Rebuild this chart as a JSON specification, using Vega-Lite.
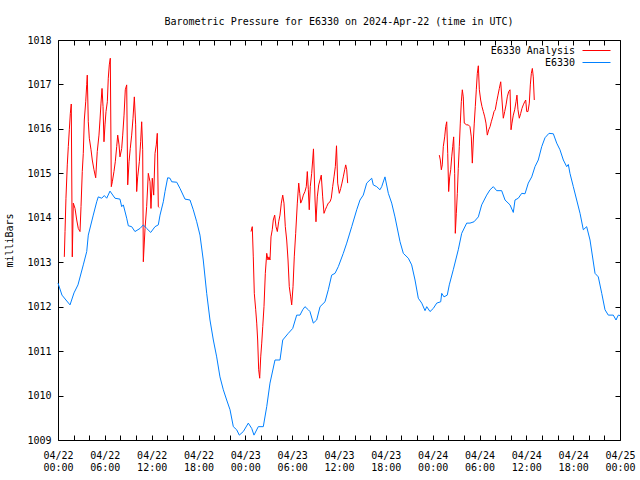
{
  "$schema": "https://vega.github.io/schema/vega-lite/v6.json",
  "width": 562,
  "height": 400,
  "autosize": {"type": "none"},
  "padding": {"left": 58, "top": 40, "right": 20, "bottom": 40},
  "background": "white",
  "title": {"text": "Barometric Pressure for E6330 on 2024-Apr-22 (time in UTC)", "font": "DejaVu Sans Mono", "fontSize": 10, "fontWeight": "normal", "color": "black", "anchor": "middle", "offset": 8},
  "config": {
    "view": {"stroke": "black", "strokeWidth": 1},
    "axis": {"domain": false, "grid": false, "tickColor": "black", "tickSize": -5, "labelFont": "DejaVu Sans Mono", "labelFontSize": 10, "labelColor": "black", "titleFont": "DejaVu Sans Mono", "titleFontSize": 10, "titleFontWeight": "normal", "titleColor": "black"},
    "legend": {"orient": "none", "title": null, "symbolType": "stroke", "symbolSize": 784, "symbolStrokeWidth": 1, "labelAlign": "right", "labelOffset": -36, "labelFont": "DejaVu Sans Mono", "labelFontSize": 10, "labelColor": "black", "padding": 0}
  },
  "data": {"values": [
    {"series":"E6330 Analysis","segment":"a1","hour":0.81,"mbar":1013.12},
    {"series":"E6330 Analysis","segment":"a1","hour":0.90,"mbar":1013.69},
    {"series":"E6330 Analysis","segment":"a1","hour":1.02,"mbar":1014.44},
    {"series":"E6330 Analysis","segment":"a1","hour":1.19,"mbar":1015.19},
    {"series":"E6330 Analysis","segment":"a1","hour":1.32,"mbar":1015.60},
    {"series":"E6330 Analysis","segment":"a1","hour":1.45,"mbar":1015.98},
    {"series":"E6330 Analysis","segment":"a1","hour":1.58,"mbar":1016.35},
    {"series":"E6330 Analysis","segment":"a1","hour":1.70,"mbar":1016.56},
    {"series":"E6330 Analysis","segment":"a1","hour":1.83,"mbar":1013.12},
    {"series":"E6330 Analysis","segment":"a1","hour":1.96,"mbar":1014.33},
    {"series":"E6330 Analysis","segment":"a1","hour":2.18,"mbar":1014.21},
    {"series":"E6330 Analysis","segment":"a1","hour":2.40,"mbar":1013.95},
    {"series":"E6330 Analysis","segment":"a1","hour":2.60,"mbar":1013.76},
    {"series":"E6330 Analysis","segment":"a1","hour":2.82,"mbar":1013.69},
    {"series":"E6330 Analysis","segment":"a1","hour":2.95,"mbar":1014.25},
    {"series":"E6330 Analysis","segment":"a1","hour":3.11,"mbar":1015.04},
    {"series":"E6330 Analysis","segment":"a1","hour":3.24,"mbar":1015.45},
    {"series":"E6330 Analysis","segment":"a1","hour":3.37,"mbar":1016.20},
    {"series":"E6330 Analysis","segment":"a1","hour":3.55,"mbar":1016.61},
    {"series":"E6330 Analysis","segment":"a1","hour":3.68,"mbar":1017.00},
    {"series":"E6330 Analysis","segment":"a1","hour":3.75,"mbar":1017.21},
    {"series":"E6330 Analysis","segment":"a1","hour":3.88,"mbar":1016.16},
    {"series":"E6330 Analysis","segment":"a1","hour":4.01,"mbar":1015.79},
    {"series":"E6330 Analysis","segment":"a1","hour":4.23,"mbar":1015.53},
    {"series":"E6330 Analysis","segment":"a1","hour":4.39,"mbar":1015.30},
    {"series":"E6330 Analysis","segment":"a1","hour":4.61,"mbar":1015.08},
    {"series":"E6330 Analysis","segment":"a1","hour":4.83,"mbar":1014.90},
    {"series":"E6330 Analysis","segment":"a1","hour":5.03,"mbar":1015.49},
    {"series":"E6330 Analysis","segment":"a1","hour":5.25,"mbar":1015.86},
    {"series":"E6330 Analysis","segment":"a1","hour":5.38,"mbar":1016.20},
    {"series":"E6330 Analysis","segment":"a1","hour":5.51,"mbar":1016.58},
    {"series":"E6330 Analysis","segment":"a1","hour":5.64,"mbar":1016.91},
    {"series":"E6330 Analysis","segment":"a1","hour":5.77,"mbar":1016.50},
    {"series":"E6330 Analysis","segment":"a1","hour":5.89,"mbar":1015.71},
    {"series":"E6330 Analysis","segment":"a1","hour":6.02,"mbar":1016.09},
    {"series":"E6330 Analysis","segment":"a1","hour":6.15,"mbar":1016.39},
    {"series":"E6330 Analysis","segment":"a1","hour":6.32,"mbar":1016.61},
    {"series":"E6330 Analysis","segment":"a1","hour":6.44,"mbar":1017.14},
    {"series":"E6330 Analysis","segment":"a1","hour":6.57,"mbar":1017.44},
    {"series":"E6330 Analysis","segment":"a1","hour":6.70,"mbar":1017.59},
    {"series":"E6330 Analysis","segment":"a1","hour":6.83,"mbar":1014.70},
    {"series":"E6330 Analysis","segment":"a1","hour":6.96,"mbar":1014.81},
    {"series":"E6330 Analysis","segment":"a1","hour":7.17,"mbar":1015.04},
    {"series":"E6330 Analysis","segment":"a1","hour":7.34,"mbar":1015.26},
    {"series":"E6330 Analysis","segment":"a1","hour":7.52,"mbar":1015.60},
    {"series":"E6330 Analysis","segment":"a1","hour":7.65,"mbar":1015.86},
    {"series":"E6330 Analysis","segment":"a1","hour":7.82,"mbar":1015.64},
    {"series":"E6330 Analysis","segment":"a1","hour":7.94,"mbar":1015.37},
    {"series":"E6330 Analysis","segment":"a1","hour":8.16,"mbar":1015.56},
    {"series":"E6330 Analysis","segment":"a1","hour":8.29,"mbar":1015.86},
    {"series":"E6330 Analysis","segment":"a1","hour":8.46,"mbar":1016.31},
    {"series":"E6330 Analysis","segment":"a1","hour":8.62,"mbar":1016.88},
    {"series":"E6330 Analysis","segment":"a1","hour":8.80,"mbar":1016.99},
    {"series":"E6330 Analysis","segment":"a1","hour":8.93,"mbar":1014.74},
    {"series":"E6330 Analysis","segment":"a1","hour":9.10,"mbar":1015.26},
    {"series":"E6330 Analysis","segment":"a1","hour":9.26,"mbar":1015.56},
    {"series":"E6330 Analysis","segment":"a1","hour":9.44,"mbar":1015.86},
    {"series":"E6330 Analysis","segment":"a1","hour":9.61,"mbar":1016.24},
    {"series":"E6330 Analysis","segment":"a1","hour":9.78,"mbar":1016.72},
    {"series":"E6330 Analysis","segment":"a1","hour":9.95,"mbar":1016.09},
    {"series":"E6330 Analysis","segment":"a1","hour":10.08,"mbar":1014.59},
    {"series":"E6330 Analysis","segment":"a1","hour":10.21,"mbar":1014.92},
    {"series":"E6330 Analysis","segment":"a1","hour":10.42,"mbar":1015.26},
    {"series":"E6330 Analysis","segment":"a1","hour":10.59,"mbar":1015.71},
    {"series":"E6330 Analysis","segment":"a1","hour":10.72,"mbar":1016.16},
    {"series":"E6330 Analysis","segment":"a1","hour":10.85,"mbar":1015.53},
    {"series":"E6330 Analysis","segment":"a1","hour":10.93,"mbar":1013.01},
    {"series":"E6330 Analysis","segment":"a1","hour":11.15,"mbar":1013.76},
    {"series":"E6330 Analysis","segment":"a1","hour":11.36,"mbar":1014.25},
    {"series":"E6330 Analysis","segment":"a1","hour":11.57,"mbar":1015.00},
    {"series":"E6330 Analysis","segment":"a1","hour":11.79,"mbar":1014.81},
    {"series":"E6330 Analysis","segment":"a1","hour":11.91,"mbar":1014.21},
    {"series":"E6330 Analysis","segment":"a1","hour":12.08,"mbar":1014.89},
    {"series":"E6330 Analysis","segment":"a1","hour":12.26,"mbar":1014.51},
    {"series":"E6330 Analysis","segment":"a1","hour":12.43,"mbar":1015.45},
    {"series":"E6330 Analysis","segment":"a1","hour":12.59,"mbar":1015.64},
    {"series":"E6330 Analysis","segment":"a1","hour":12.72,"mbar":1015.90},
    {"series":"E6330 Analysis","segment":"a1","hour":12.85,"mbar":1014.25},
    {"series":"E6330 Analysis","segment":"a1","hour":12.98,"mbar":1014.23},
    {"series":"E6330 Analysis","segment":"a2","hour":24.73,"mbar":1013.69},
    {"series":"E6330 Analysis","segment":"a2","hour":24.89,"mbar":1013.80},
    {"series":"E6330 Analysis","segment":"a2","hour":25.02,"mbar":1013.12},
    {"series":"E6330 Analysis","segment":"a2","hour":25.15,"mbar":1012.30},
    {"series":"E6330 Analysis","segment":"a2","hour":25.33,"mbar":1011.93},
    {"series":"E6330 Analysis","segment":"a2","hour":25.46,"mbar":1011.63},
    {"series":"E6330 Analysis","segment":"a2","hour":25.58,"mbar":1011.25},
    {"series":"E6330 Analysis","segment":"a2","hour":25.71,"mbar":1010.58},
    {"series":"E6330 Analysis","segment":"a2","hour":25.84,"mbar":1010.39},
    {"series":"E6330 Analysis","segment":"a2","hour":25.97,"mbar":1010.87},
    {"series":"E6330 Analysis","segment":"a2","hour":26.10,"mbar":1011.18},
    {"series":"E6330 Analysis","segment":"a2","hour":26.23,"mbar":1011.55},
    {"series":"E6330 Analysis","segment":"a2","hour":26.39,"mbar":1012.00},
    {"series":"E6330 Analysis","segment":"a2","hour":26.56,"mbar":1012.75},
    {"series":"E6330 Analysis","segment":"a2","hour":26.74,"mbar":1013.20},
    {"series":"E6330 Analysis","segment":"a2","hour":26.90,"mbar":1013.05},
    {"series":"E6330 Analysis","segment":"a2","hour":27.03,"mbar":1013.12},
    {"series":"E6330 Analysis","segment":"a2","hour":27.16,"mbar":1013.05},
    {"series":"E6330 Analysis","segment":"a2","hour":27.29,"mbar":1013.57},
    {"series":"E6330 Analysis","segment":"a2","hour":27.45,"mbar":1013.73},
    {"series":"E6330 Analysis","segment":"a2","hour":27.58,"mbar":1013.95},
    {"series":"E6330 Analysis","segment":"a2","hour":27.76,"mbar":1014.06},
    {"series":"E6330 Analysis","segment":"a2","hour":27.93,"mbar":1013.80},
    {"series":"E6330 Analysis","segment":"a2","hour":28.10,"mbar":1013.69},
    {"series":"E6330 Analysis","segment":"a2","hour":28.27,"mbar":1013.91},
    {"series":"E6330 Analysis","segment":"a2","hour":28.44,"mbar":1014.06},
    {"series":"E6330 Analysis","segment":"a2","hour":28.61,"mbar":1014.33},
    {"series":"E6330 Analysis","segment":"a2","hour":28.79,"mbar":1014.51},
    {"series":"E6330 Analysis","segment":"a2","hour":28.95,"mbar":1014.33},
    {"series":"E6330 Analysis","segment":"a2","hour":29.12,"mbar":1013.80},
    {"series":"E6330 Analysis","segment":"a2","hour":29.30,"mbar":1013.50},
    {"series":"E6330 Analysis","segment":"a2","hour":29.47,"mbar":1013.05},
    {"series":"E6330 Analysis","segment":"a2","hour":29.63,"mbar":1012.45},
    {"series":"E6330 Analysis","segment":"a2","hour":29.81,"mbar":1012.22},
    {"series":"E6330 Analysis","segment":"a2","hour":29.94,"mbar":1012.04},
    {"series":"E6330 Analysis","segment":"a2","hour":30.11,"mbar":1012.45},
    {"series":"E6330 Analysis","segment":"a2","hour":30.27,"mbar":1013.12},
    {"series":"E6330 Analysis","segment":"a2","hour":30.45,"mbar":1013.65},
    {"series":"E6330 Analysis","segment":"a2","hour":30.66,"mbar":1014.33},
    {"series":"E6330 Analysis","segment":"a2","hour":30.84,"mbar":1014.78},
    {"series":"E6330 Analysis","segment":"a2","hour":30.97,"mbar":1014.55},
    {"series":"E6330 Analysis","segment":"a2","hour":31.09,"mbar":1014.33},
    {"series":"E6330 Analysis","segment":"a2","hour":31.26,"mbar":1014.40},
    {"series":"E6330 Analysis","segment":"a2","hour":31.43,"mbar":1014.51},
    {"series":"E6330 Analysis","segment":"a2","hour":31.64,"mbar":1014.59},
    {"series":"E6330 Analysis","segment":"a2","hour":31.81,"mbar":1014.70},
    {"series":"E6330 Analysis","segment":"a2","hour":31.94,"mbar":1015.04},
    {"series":"E6330 Analysis","segment":"a2","hour":32.07,"mbar":1014.63},
    {"series":"E6330 Analysis","segment":"a2","hour":32.19,"mbar":1014.18},
    {"series":"E6330 Analysis","segment":"a2","hour":32.32,"mbar":1014.70},
    {"series":"E6330 Analysis","segment":"a2","hour":32.50,"mbar":1015.00},
    {"series":"E6330 Analysis","segment":"a2","hour":32.63,"mbar":1015.30},
    {"series":"E6330 Analysis","segment":"a2","hour":32.73,"mbar":1015.55},
    {"series":"E6330 Analysis","segment":"a2","hour":32.93,"mbar":1014.40},
    {"series":"E6330 Analysis","segment":"a2","hour":33.05,"mbar":1013.91},
    {"series":"E6330 Analysis","segment":"a2","hour":33.22,"mbar":1014.47},
    {"series":"E6330 Analysis","segment":"a2","hour":33.40,"mbar":1014.74},
    {"series":"E6330 Analysis","segment":"a2","hour":33.57,"mbar":1014.85},
    {"series":"E6330 Analysis","segment":"a2","hour":33.73,"mbar":1014.96},
    {"series":"E6330 Analysis","segment":"a2","hour":33.91,"mbar":1014.47},
    {"series":"E6330 Analysis","segment":"a2","hour":34.08,"mbar":1014.10},
    {"series":"E6330 Analysis","segment":"a2","hour":34.25,"mbar":1014.18},
    {"series":"E6330 Analysis","segment":"a2","hour":34.42,"mbar":1014.25},
    {"series":"E6330 Analysis","segment":"a2","hour":34.63,"mbar":1014.33},
    {"series":"E6330 Analysis","segment":"a2","hour":34.85,"mbar":1014.36},
    {"series":"E6330 Analysis","segment":"a2","hour":35.01,"mbar":1014.44},
    {"series":"E6330 Analysis","segment":"a2","hour":35.19,"mbar":1014.70},
    {"series":"E6330 Analysis","segment":"a2","hour":35.36,"mbar":1014.92},
    {"series":"E6330 Analysis","segment":"a2","hour":35.53,"mbar":1015.15},
    {"series":"E6330 Analysis","segment":"a2","hour":35.68,"mbar":1015.62},
    {"series":"E6330 Analysis","segment":"a2","hour":35.83,"mbar":1014.78},
    {"series":"E6330 Analysis","segment":"a2","hour":36.04,"mbar":1014.55},
    {"series":"E6330 Analysis","segment":"a2","hour":36.22,"mbar":1014.66},
    {"series":"E6330 Analysis","segment":"a2","hour":36.38,"mbar":1014.78},
    {"series":"E6330 Analysis","segment":"a2","hour":36.55,"mbar":1014.92},
    {"series":"E6330 Analysis","segment":"a2","hour":36.73,"mbar":1015.08},
    {"series":"E6330 Analysis","segment":"a2","hour":36.86,"mbar":1015.19},
    {"series":"E6330 Analysis","segment":"a2","hour":36.99,"mbar":1015.08},
    {"series":"E6330 Analysis","segment":"a2","hour":37.11,"mbar":1014.78},
    {"series":"E6330 Analysis","segment":"a3","hour":48.85,"mbar":1015.41},
    {"series":"E6330 Analysis","segment":"a3","hour":48.98,"mbar":1015.30},
    {"series":"E6330 Analysis","segment":"a3","hour":49.11,"mbar":1015.08},
    {"series":"E6330 Analysis","segment":"a3","hour":49.23,"mbar":1015.19},
    {"series":"E6330 Analysis","segment":"a3","hour":49.36,"mbar":1015.60},
    {"series":"E6330 Analysis","segment":"a3","hour":49.54,"mbar":1015.82},
    {"series":"E6330 Analysis","segment":"a3","hour":49.67,"mbar":1016.05},
    {"series":"E6330 Analysis","segment":"a3","hour":49.80,"mbar":1016.16},
    {"series":"E6330 Analysis","segment":"a3","hour":49.93,"mbar":1015.45},
    {"series":"E6330 Analysis","segment":"a3","hour":50.05,"mbar":1014.59},
    {"series":"E6330 Analysis","segment":"a3","hour":50.18,"mbar":1014.92},
    {"series":"E6330 Analysis","segment":"a3","hour":50.31,"mbar":1015.08},
    {"series":"E6330 Analysis","segment":"a3","hour":50.44,"mbar":1015.37},
    {"series":"E6330 Analysis","segment":"a3","hour":50.57,"mbar":1015.60},
    {"series":"E6330 Analysis","segment":"a3","hour":50.69,"mbar":1015.82},
    {"series":"E6330 Analysis","segment":"a3","hour":50.82,"mbar":1015.00},
    {"series":"E6330 Analysis","segment":"a3","hour":50.90,"mbar":1013.65},
    {"series":"E6330 Analysis","segment":"a3","hour":51.03,"mbar":1014.10},
    {"series":"E6330 Analysis","segment":"a3","hour":51.16,"mbar":1014.55},
    {"series":"E6330 Analysis","segment":"a3","hour":51.28,"mbar":1015.11},
    {"series":"E6330 Analysis","segment":"a3","hour":51.41,"mbar":1015.60},
    {"series":"E6330 Analysis","segment":"a3","hour":51.54,"mbar":1016.13},
    {"series":"E6330 Analysis","segment":"a3","hour":51.67,"mbar":1016.61},
    {"series":"E6330 Analysis","segment":"a3","hour":51.80,"mbar":1016.88},
    {"series":"E6330 Analysis","segment":"a3","hour":51.92,"mbar":1016.72},
    {"series":"E6330 Analysis","segment":"a3","hour":52.05,"mbar":1016.13},
    {"series":"E6330 Analysis","segment":"a3","hour":52.36,"mbar":1016.09},
    {"series":"E6330 Analysis","segment":"a3","hour":52.57,"mbar":1016.09},
    {"series":"E6330 Analysis","segment":"a3","hour":52.78,"mbar":1016.05},
    {"series":"E6330 Analysis","segment":"a3","hour":52.95,"mbar":1015.82},
    {"series":"E6330 Analysis","segment":"a3","hour":53.08,"mbar":1015.23},
    {"series":"E6330 Analysis","segment":"a3","hour":53.21,"mbar":1015.75},
    {"series":"E6330 Analysis","segment":"a3","hour":53.33,"mbar":1016.13},
    {"series":"E6330 Analysis","segment":"a3","hour":53.46,"mbar":1016.50},
    {"series":"E6330 Analysis","segment":"a3","hour":53.59,"mbar":1016.88},
    {"series":"E6330 Analysis","segment":"a3","hour":53.72,"mbar":1017.25},
    {"series":"E6330 Analysis","segment":"a3","hour":53.85,"mbar":1017.42},
    {"series":"E6330 Analysis","segment":"a3","hour":53.98,"mbar":1016.88},
    {"series":"E6330 Analysis","segment":"a3","hour":54.15,"mbar":1016.65},
    {"series":"E6330 Analysis","segment":"a3","hour":54.32,"mbar":1016.50},
    {"series":"E6330 Analysis","segment":"a3","hour":54.49,"mbar":1016.39},
    {"series":"E6330 Analysis","segment":"a3","hour":54.67,"mbar":1016.27},
    {"series":"E6330 Analysis","segment":"a3","hour":54.83,"mbar":1016.13},
    {"series":"E6330 Analysis","segment":"a3","hour":55.00,"mbar":1015.86},
    {"series":"E6330 Analysis","segment":"a3","hour":55.18,"mbar":1015.98},
    {"series":"E6330 Analysis","segment":"a3","hour":55.35,"mbar":1016.05},
    {"series":"E6330 Analysis","segment":"a3","hour":55.51,"mbar":1016.16},
    {"series":"E6330 Analysis","segment":"a3","hour":55.69,"mbar":1016.27},
    {"series":"E6330 Analysis","segment":"a3","hour":55.86,"mbar":1016.39},
    {"series":"E6330 Analysis","segment":"a3","hour":56.02,"mbar":1016.43},
    {"series":"E6330 Analysis","segment":"a3","hour":56.20,"mbar":1016.61},
    {"series":"E6330 Analysis","segment":"a3","hour":56.37,"mbar":1016.76},
    {"series":"E6330 Analysis","segment":"a3","hour":56.54,"mbar":1016.91},
    {"series":"E6330 Analysis","segment":"a3","hour":56.72,"mbar":1017.06},
    {"series":"E6330 Analysis","segment":"a3","hour":56.88,"mbar":1016.65},
    {"series":"E6330 Analysis","segment":"a3","hour":57.05,"mbar":1016.24},
    {"series":"E6330 Analysis","segment":"a3","hour":57.23,"mbar":1016.39},
    {"series":"E6330 Analysis","segment":"a3","hour":57.40,"mbar":1016.54},
    {"series":"E6330 Analysis","segment":"a3","hour":57.56,"mbar":1016.72},
    {"series":"E6330 Analysis","segment":"a3","hour":57.74,"mbar":1016.84},
    {"series":"E6330 Analysis","segment":"a3","hour":57.91,"mbar":1016.88},
    {"series":"E6330 Analysis","segment":"a3","hour":58.04,"mbar":1015.98},
    {"series":"E6330 Analysis","segment":"a3","hour":58.16,"mbar":1016.13},
    {"series":"E6330 Analysis","segment":"a3","hour":58.33,"mbar":1016.31},
    {"series":"E6330 Analysis","segment":"a3","hour":58.51,"mbar":1016.43},
    {"series":"E6330 Analysis","segment":"a3","hour":58.68,"mbar":1016.61},
    {"series":"E6330 Analysis","segment":"a3","hour":58.80,"mbar":1016.76},
    {"series":"E6330 Analysis","segment":"a3","hour":58.93,"mbar":1016.43},
    {"series":"E6330 Analysis","segment":"a3","hour":59.10,"mbar":1016.24},
    {"series":"E6330 Analysis","segment":"a3","hour":59.28,"mbar":1016.35},
    {"series":"E6330 Analysis","segment":"a3","hour":59.44,"mbar":1016.46},
    {"series":"E6330 Analysis","segment":"a3","hour":59.61,"mbar":1016.54},
    {"series":"E6330 Analysis","segment":"a3","hour":59.79,"mbar":1016.61},
    {"series":"E6330 Analysis","segment":"a3","hour":59.92,"mbar":1016.65},
    {"series":"E6330 Analysis","segment":"a3","hour":60.05,"mbar":1016.39},
    {"series":"E6330 Analysis","segment":"a3","hour":60.21,"mbar":1016.39},
    {"series":"E6330 Analysis","segment":"a3","hour":60.38,"mbar":1016.58},
    {"series":"E6330 Analysis","segment":"a3","hour":60.51,"mbar":1016.99},
    {"series":"E6330 Analysis","segment":"a3","hour":60.64,"mbar":1017.25},
    {"series":"E6330 Analysis","segment":"a3","hour":60.77,"mbar":1017.36},
    {"series":"E6330 Analysis","segment":"a3","hour":60.89,"mbar":1017.17},
    {"series":"E6330 Analysis","segment":"a3","hour":61.02,"mbar":1016.65},
    {"series":"E6330","segment":"b","hour":0,"mbar":1012.53},
    {"series":"E6330","segment":"b","hour":0.51,"mbar":1012.26},
    {"series":"E6330","segment":"b","hour":1.02,"mbar":1012.15},
    {"series":"E6330","segment":"b","hour":1.54,"mbar":1012.04},
    {"series":"E6330","segment":"b","hour":2.05,"mbar":1012.31},
    {"series":"E6330","segment":"b","hour":2.56,"mbar":1012.49},
    {"series":"E6330","segment":"b","hour":3.24,"mbar":1012.94},
    {"series":"E6330","segment":"b","hour":3.68,"mbar":1013.24},
    {"series":"E6330","segment":"b","hour":3.88,"mbar":1013.61},
    {"series":"E6330","segment":"b","hour":4.52,"mbar":1014.06},
    {"series":"E6330","segment":"b","hour":4.96,"mbar":1014.36},
    {"series":"E6330","segment":"b","hour":5.16,"mbar":1014.47},
    {"series":"E6330","segment":"b","hour":5.60,"mbar":1014.44},
    {"series":"E6330","segment":"b","hour":5.93,"mbar":1014.50},
    {"series":"E6330","segment":"b","hour":6.24,"mbar":1014.44},
    {"series":"E6330","segment":"b","hour":6.66,"mbar":1014.60},
    {"series":"E6330","segment":"b","hour":7.30,"mbar":1014.44},
    {"series":"E6330","segment":"b","hour":7.94,"mbar":1014.42},
    {"series":"E6330","segment":"b","hour":8.16,"mbar":1014.25},
    {"series":"E6330","segment":"b","hour":8.37,"mbar":1014.29},
    {"series":"E6330","segment":"b","hour":8.80,"mbar":1013.99},
    {"series":"E6330","segment":"b","hour":9.01,"mbar":1013.82},
    {"series":"E6330","segment":"b","hour":9.44,"mbar":1013.80},
    {"series":"E6330","segment":"b","hour":9.86,"mbar":1013.69},
    {"series":"E6330","segment":"b","hour":10.51,"mbar":1013.76},
    {"series":"E6330","segment":"b","hour":10.93,"mbar":1013.84},
    {"series":"E6330","segment":"b","hour":11.36,"mbar":1013.76},
    {"series":"E6330","segment":"b","hour":11.88,"mbar":1013.67},
    {"series":"E6330","segment":"b","hour":12.43,"mbar":1013.80},
    {"series":"E6330","segment":"b","hour":12.85,"mbar":1013.84},
    {"series":"E6330","segment":"b","hour":13.07,"mbar":1014.06},
    {"series":"E6330","segment":"b","hour":13.49,"mbar":1014.36},
    {"series":"E6330","segment":"b","hour":13.71,"mbar":1014.59},
    {"series":"E6330","segment":"b","hour":14.05,"mbar":1014.90},
    {"series":"E6330","segment":"b","hour":14.35,"mbar":1014.89},
    {"series":"E6330","segment":"b","hour":14.57,"mbar":1014.81},
    {"series":"E6330","segment":"b","hour":15.21,"mbar":1014.80},
    {"series":"E6330","segment":"b","hour":15.63,"mbar":1014.66},
    {"series":"E6330","segment":"b","hour":16.27,"mbar":1014.42},
    {"series":"E6330","segment":"b","hour":16.91,"mbar":1014.40},
    {"series":"E6330","segment":"b","hour":17.33,"mbar":1014.18},
    {"series":"E6330","segment":"b","hour":17.77,"mbar":1013.91},
    {"series":"E6330","segment":"b","hour":18.19,"mbar":1013.61},
    {"series":"E6330","segment":"b","hour":18.61,"mbar":1013.05},
    {"series":"E6330","segment":"b","hour":19.05,"mbar":1012.30},
    {"series":"E6330","segment":"b","hour":19.47,"mbar":1011.70},
    {"series":"E6330","segment":"b","hour":19.90,"mbar":1011.25},
    {"series":"E6330","segment":"b","hour":20.33,"mbar":1010.87},
    {"series":"E6330","segment":"b","hour":20.75,"mbar":1010.42},
    {"series":"E6330","segment":"b","hour":21.18,"mbar":1010.13},
    {"series":"E6330","segment":"b","hour":21.61,"mbar":1009.90},
    {"series":"E6330","segment":"b","hour":22.04,"mbar":1009.68},
    {"series":"E6330","segment":"b","hour":22.46,"mbar":1009.30},
    {"series":"E6330","segment":"b","hour":22.89,"mbar":1009.23},
    {"series":"E6330","segment":"b","hour":23.23,"mbar":1009.11},
    {"series":"E6330","segment":"b","hour":23.74,"mbar":1009.19},
    {"series":"E6330","segment":"b","hour":24.38,"mbar":1009.38},
    {"series":"E6330","segment":"b","hour":24.82,"mbar":1009.26},
    {"series":"E6330","segment":"b","hour":25.11,"mbar":1009.11},
    {"series":"E6330","segment":"b","hour":25.66,"mbar":1009.30},
    {"series":"E6330","segment":"b","hour":26.30,"mbar":1009.30},
    {"series":"E6330","segment":"b","hour":26.74,"mbar":1009.75},
    {"series":"E6330","segment":"b","hour":27.16,"mbar":1010.28},
    {"series":"E6330","segment":"b","hour":27.80,"mbar":1010.80},
    {"series":"E6330","segment":"b","hour":28.44,"mbar":1010.80},
    {"series":"E6330","segment":"b","hour":28.79,"mbar":1011.25},
    {"series":"E6330","segment":"b","hour":29.50,"mbar":1011.40},
    {"series":"E6330","segment":"b","hour":30.07,"mbar":1011.51},
    {"series":"E6330","segment":"b","hour":30.58,"mbar":1011.81},
    {"series":"E6330","segment":"b","hour":31.00,"mbar":1011.81},
    {"series":"E6330","segment":"b","hour":31.35,"mbar":1011.93},
    {"series":"E6330","segment":"b","hour":31.64,"mbar":1012.00},
    {"series":"E6330","segment":"b","hour":32.07,"mbar":1011.93},
    {"series":"E6330","segment":"b","hour":32.28,"mbar":1011.89},
    {"series":"E6330","segment":"b","hour":32.71,"mbar":1011.63},
    {"series":"E6330","segment":"b","hour":33.14,"mbar":1011.70},
    {"series":"E6330","segment":"b","hour":33.57,"mbar":1012.00},
    {"series":"E6330","segment":"b","hour":34.21,"mbar":1012.11},
    {"series":"E6330","segment":"b","hour":34.63,"mbar":1012.38},
    {"series":"E6330","segment":"b","hour":35.06,"mbar":1012.71},
    {"series":"E6330","segment":"b","hour":35.49,"mbar":1012.75},
    {"series":"E6330","segment":"b","hour":35.91,"mbar":1012.90},
    {"series":"E6330","segment":"b","hour":36.55,"mbar":1013.20},
    {"series":"E6330","segment":"b","hour":36.99,"mbar":1013.43},
    {"series":"E6330","segment":"b","hour":37.63,"mbar":1013.80},
    {"series":"E6330","segment":"b","hour":38.27,"mbar":1014.18},
    {"series":"E6330","segment":"b","hour":38.69,"mbar":1014.40},
    {"series":"E6330","segment":"b","hour":39.11,"mbar":1014.51},
    {"series":"E6330","segment":"b","hour":39.55,"mbar":1014.78},
    {"series":"E6330","segment":"b","hour":40.19,"mbar":1014.89},
    {"series":"E6330","segment":"b","hour":40.39,"mbar":1014.74},
    {"series":"E6330","segment":"b","hour":40.83,"mbar":1014.70},
    {"series":"E6330","segment":"b","hour":41.25,"mbar":1014.63},
    {"series":"E6330","segment":"b","hour":41.47,"mbar":1014.70},
    {"series":"E6330","segment":"b","hour":41.89,"mbar":1014.92},
    {"series":"E6330","segment":"b","hour":42.32,"mbar":1014.55},
    {"series":"E6330","segment":"b","hour":42.75,"mbar":1014.33},
    {"series":"E6330","segment":"b","hour":43.17,"mbar":1014.02},
    {"series":"E6330","segment":"b","hour":43.82,"mbar":1013.46},
    {"series":"E6330","segment":"b","hour":44.24,"mbar":1013.20},
    {"series":"E6330","segment":"b","hour":44.88,"mbar":1013.09},
    {"series":"E6330","segment":"b","hour":45.31,"mbar":1012.94},
    {"series":"E6330","segment":"b","hour":45.74,"mbar":1012.60},
    {"series":"E6330","segment":"b","hour":46.16,"mbar":1012.19},
    {"series":"E6330","segment":"b","hour":46.60,"mbar":1012.08},
    {"series":"E6330","segment":"b","hour":47.02,"mbar":1011.91},
    {"series":"E6330","segment":"b","hour":47.24,"mbar":1012.00},
    {"series":"E6330","segment":"b","hour":47.66,"mbar":1011.89},
    {"series":"E6330","segment":"b","hour":48.08,"mbar":1011.96},
    {"series":"E6330","segment":"b","hour":48.52,"mbar":1012.08},
    {"series":"E6330","segment":"b","hour":49.03,"mbar":1012.11},
    {"series":"E6330","segment":"b","hour":49.16,"mbar":1012.30},
    {"series":"E6330","segment":"b","hour":49.45,"mbar":1012.22},
    {"series":"E6330","segment":"b","hour":49.87,"mbar":1012.26},
    {"series":"E6330","segment":"b","hour":50.13,"mbar":1012.49},
    {"series":"E6330","segment":"b","hour":50.64,"mbar":1012.83},
    {"series":"E6330","segment":"b","hour":51.28,"mbar":1013.28},
    {"series":"E6330","segment":"b","hour":51.72,"mbar":1013.65},
    {"series":"E6330","segment":"b","hour":52.36,"mbar":1013.88},
    {"series":"E6330","segment":"b","hour":52.78,"mbar":1013.88},
    {"series":"E6330","segment":"b","hour":53.30,"mbar":1013.91},
    {"series":"E6330","segment":"b","hour":53.85,"mbar":1014.02},
    {"series":"E6330","segment":"b","hour":54.28,"mbar":1014.29},
    {"series":"E6330","segment":"b","hour":54.92,"mbar":1014.51},
    {"series":"E6330","segment":"b","hour":55.35,"mbar":1014.63},
    {"series":"E6330","segment":"b","hour":55.77,"mbar":1014.70},
    {"series":"E6330","segment":"b","hour":56.20,"mbar":1014.61},
    {"series":"E6330","segment":"b","hour":56.84,"mbar":1014.61},
    {"series":"E6330","segment":"b","hour":57.27,"mbar":1014.40},
    {"series":"E6330","segment":"b","hour":57.91,"mbar":1014.29},
    {"series":"E6330","segment":"b","hour":58.33,"mbar":1014.12},
    {"series":"E6330","segment":"b","hour":58.55,"mbar":1014.40},
    {"series":"E6330","segment":"b","hour":58.97,"mbar":1014.44},
    {"series":"E6330","segment":"b","hour":59.41,"mbar":1014.55},
    {"series":"E6330","segment":"b","hour":59.83,"mbar":1014.54},
    {"series":"E6330","segment":"b","hour":60.25,"mbar":1014.78},
    {"series":"E6330","segment":"b","hour":60.69,"mbar":1014.92},
    {"series":"E6330","segment":"b","hour":61.11,"mbar":1015.15},
    {"series":"E6330","segment":"b","hour":61.53,"mbar":1015.30},
    {"series":"E6330","segment":"b","hour":61.97,"mbar":1015.60},
    {"series":"E6330","segment":"b","hour":62.39,"mbar":1015.80},
    {"series":"E6330","segment":"b","hour":62.90,"mbar":1015.90},
    {"series":"E6330","segment":"b","hour":63.46,"mbar":1015.89},
    {"series":"E6330","segment":"b","hour":63.89,"mbar":1015.68},
    {"series":"E6330","segment":"b","hour":64.31,"mbar":1015.53},
    {"series":"E6330","segment":"b","hour":64.74,"mbar":1015.30},
    {"series":"E6330","segment":"b","hour":65.17,"mbar":1015.15},
    {"series":"E6330","segment":"b","hour":65.38,"mbar":1015.20},
    {"series":"E6330","segment":"b","hour":65.59,"mbar":1015.00},
    {"series":"E6330","segment":"b","hour":66.02,"mbar":1014.70},
    {"series":"E6330","segment":"b","hour":66.45,"mbar":1014.40},
    {"series":"E6330","segment":"b","hour":66.88,"mbar":1014.10},
    {"series":"E6330","segment":"b","hour":67.30,"mbar":1013.73},
    {"series":"E6330","segment":"b","hour":67.73,"mbar":1013.80},
    {"series":"E6330","segment":"b","hour":68.16,"mbar":1013.50},
    {"series":"E6330","segment":"b","hour":68.80,"mbar":1012.75},
    {"series":"E6330","segment":"b","hour":69.22,"mbar":1012.67},
    {"series":"E6330","segment":"b","hour":69.66,"mbar":1012.30},
    {"series":"E6330","segment":"b","hour":70.08,"mbar":1011.93},
    {"series":"E6330","segment":"b","hour":70.50,"mbar":1011.81},
    {"series":"E6330","segment":"b","hour":71.14,"mbar":1011.81},
    {"series":"E6330","segment":"b","hour":71.49,"mbar":1011.70},
    {"series":"E6330","segment":"b","hour":71.78,"mbar":1011.81},
    {"series":"E6330","segment":"b","hour":72.00,"mbar":1011.80}
  ]},
  "encoding": {
    "detail": {"field": "segment", "type": "nominal"}
  },
  "layer": [
    {
      "transform": [{"filter": "datum.series == 'E6330 Analysis'"}],
      "mark": {"type": "line", "strokeWidth": 1, "interpolate": "linear"},
      "encoding": {
        "color": {"field": "series", "type": "nominal",
          "scale": {"domain": ["E6330 Analysis"], "range": ["#ff0000"]},
          "legend": {"legendX": 524, "legendY": -4}},
        "x": {"field": "hour", "type": "quantitative", "scale": {"domain": [0, 72], "nice": false, "zero": false},
          "axis": {"orient": "bottom", "title": null, "values": [0,2,4,6,8,10,12,14,16,18,20,22,24,26,28,30,32,34,36,38,40,42,44,46,48,50,52,54,56,58,60,62,64,66,68,70,72],
            "labelExpr": "datum.value % 6 == 0 ? ['04/' + (22 + floor(datum.value / 24)), (datum.value % 24 < 10 ? '0' : '') + (datum.value % 24) + ':00'] : ''",
            "labelLineHeight": 12, "labelPadding": 15, "labelBaseline": "top", "labelFlush": false, "labelOverlap": false}},
        "y": {"field": "mbar", "type": "quantitative", "scale": {"domain": [1009, 1018], "nice": false, "zero": false},
          "axis": {"orient": "left", "title": "milliBars", "values": [1009,1010,1011,1012,1013,1014,1015,1016,1017,1018], "format": "d", "labelPadding": 12, "titlePadding": 12}}
      }
    },
    {
      "transform": [{"filter": "datum.series == 'E6330'"}],
      "mark": {"type": "line", "strokeWidth": 1, "interpolate": "linear"},
      "encoding": {
        "color": {"field": "series", "type": "nominal",
          "scale": {"domain": ["E6330"], "range": ["#0080ff"]},
          "legend": {"legendX": 524, "legendY": 8}},
        "x": {"field": "hour", "type": "quantitative", "scale": {"domain": [0, 72], "nice": false, "zero": false},
          "axis": {"orient": "top", "title": null, "labels": false, "values": [0,2,4,6,8,10,12,14,16,18,20,22,24,26,28,30,32,34,36,38,40,42,44,46,48,50,52,54,56,58,60,62,64,66,68,70,72]}},
        "y": {"field": "mbar", "type": "quantitative", "scale": {"domain": [1009, 1018], "nice": false, "zero": false},
          "axis": {"orient": "right", "title": null, "labels": false, "values": [1009,1010,1011,1012,1013,1014,1015,1016,1017,1018]}}
      }
    }
  ],
  "resolve": {"axis": {"x": "independent", "y": "independent"}, "scale": {"color": "independent"}, "legend": {"color": "independent"}}
}
